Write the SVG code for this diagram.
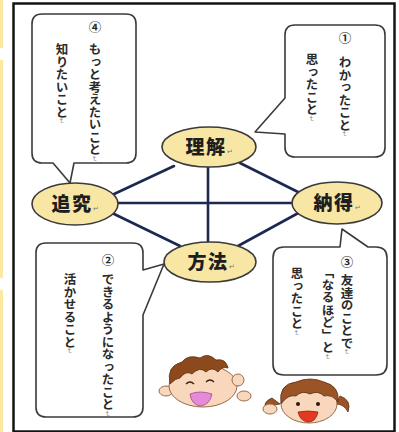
<svg xmlns="http://www.w3.org/2000/svg" width="399" height="432" viewBox="0 0 399 432">
  <style>
    .frame { fill: none; stroke: #141414; stroke-width: 2.5; }
    .strip { fill: #fde8a0; }
    .link { stroke: #1c2850; stroke-width: 2.6; stroke-linecap: round; }
    .node ellipse { fill: #f8e7a4; stroke: #3a3a3a; stroke-width: 1.6; }
    .node text { font-family: "Noto Sans CJK JP", "Noto Sans", sans-serif; font-weight: 900; font-size: 19px; fill: #1e1e1e; text-anchor: middle; letter-spacing: 1.5px; }
    .mark { font-size: 7px; font-weight: 400; fill: #777; letter-spacing: 0; }
    .bubble path { fill: #ffffff; stroke: #3a3a3a; stroke-width: 1.6; stroke-linejoin: round; }
    .bubble text { font-family: "Noto Sans CJK JP", "Noto Sans", sans-serif; font-weight: 700; font-size: 12.5px; fill: #2a2a2a; writing-mode: vertical-rl; }
    .bubble .cr { font-size: 7px; font-weight: 400; fill: #888; }
    .skin { fill: #f9d7bd; stroke: #9a6a4a; stroke-width: 1; }
    .hair1 { fill: #8c4a1c; stroke: #5a2e10; stroke-width: 0.8; }
    .hair2 { fill: #9a5426; stroke: #5a2e10; stroke-width: 0.8; }
    .eye { fill: #2a1a10; }
  </style>

  <!-- side strip and frame -->
  <rect class="strip" x="0" y="0" width="3" height="48"/>
  <rect class="strip" x="0" y="60" width="3" height="218"/>
  <rect class="strip" x="0" y="290" width="3" height="142"/>
  <rect class="frame" x="13.5" y="3.5" width="381" height="428"/>

  <!-- connectors -->
  <g id="connectors">
    <line class="link" x1="208" y1="165" x2="208" y2="244"/>
    <line class="link" x1="115" y1="203" x2="294" y2="203"/>
    <line class="link" x1="112" y1="195" x2="174" y2="166"/>
    <line class="link" x1="240" y1="163" x2="302" y2="194"/>
    <line class="link" x1="110" y1="212" x2="180" y2="246"/>
    <line class="link" x1="238" y1="246" x2="302" y2="211"/>
  </g>

  <!-- central nodes -->
  <g id="node-rikai" class="node">
    <ellipse cx="209" cy="147" rx="47" ry="20"/>
    <text x="209" y="154">理解<tspan class="mark">↵</tspan></text>
  </g>
  <g id="node-tsuikyu" class="node">
    <ellipse cx="75" cy="204" rx="43" ry="21"/>
    <text x="75" y="211">追究<tspan class="mark">↵</tspan></text>
  </g>
  <g id="node-nattoku" class="node">
    <ellipse cx="337" cy="203" rx="45" ry="21"/>
    <text x="337" y="210">納得<tspan class="mark">↵</tspan></text>
  </g>
  <g id="node-hoho" class="node">
    <ellipse cx="210" cy="262" rx="46" ry="20"/>
    <text x="211" y="269">方法<tspan class="mark">↵</tspan></text>
  </g>

  <!-- speech bubbles -->
  <g id="bubble-4" class="bubble">
    <path d="M42,14 H126 Q136,14 136,24 V153 Q136,163 126,163 H74 L70,183 L53,163 H42 Q32,163 32,153 V24 Q32,14 42,14 Z"/>
    <text x="95" y="21">④</text>
    <text x="95" y="43">もっと考えたいこと<tspan class="cr">↵</tspan></text>
    <text x="62" y="43">知りたいこと<tspan class="cr">↵</tspan></text>
  </g>
  <g id="bubble-1" class="bubble">
    <path d="M295,25 H375 Q385,25 385,35 V147 Q385,157 375,157 H295 Q285,157 285,147 V134 L255,132 L285,98 V35 Q285,25 295,25 Z"/>
    <text x="345" y="32">①</text>
    <text x="345" y="56">わかったこと<tspan class="cr">↵</tspan></text>
    <text x="312" y="53">思ったこと<tspan class="cr">↵</tspan></text>
  </g>
  <g id="bubble-2" class="bubble">
    <path d="M46,243 H133 Q143,243 143,253 V270 L164,264 L143,315 V407 Q143,417 133,417 H46 Q36,417 36,407 V253 Q36,243 46,243 Z"/>
    <text x="108" y="254">②</text>
    <text x="108" y="273">できるようになったこと<tspan class="cr">↵</tspan></text>
    <text x="70" y="273">活かせること<tspan class="cr">↵</tspan></text>
  </g>
  <g id="bubble-3" class="bubble">
    <path d="M284,247 H340 L342,229 L368,247 H376 Q387,247 387,258 V364 Q387,375 376,375 H284 Q273,375 273,364 V258 Q273,247 284,247 Z"/>
    <text x="347" y="256">③</text>
    <text x="347" y="274">友達のことで<tspan class="cr">↵</tspan></text>
    <text x="328" y="266">「なるほど」と<tspan class="cr">↵</tspan></text>
    <text x="297" y="267">思ったこと<tspan class="cr">↵</tspan></text>
  </g>

  <!-- two children lying on their fronts -->
  <g id="child-left">
    <ellipse class="skin" cx="166" cy="391" rx="7" ry="5"/>
    <ellipse class="skin" cx="244" cy="396" rx="7" ry="5"/>
    <ellipse class="skin" cx="203" cy="386" rx="34" ry="21"/>
    <circle class="skin" cx="238" cy="380" r="6"/>
    <path class="hair1" d="M170,384 Q166,366 182,362 Q188,354 200,358 Q208,352 216,360 Q226,358 228,368 Q222,366 218,372 Q212,366 206,372 Q200,366 192,374 Q186,370 180,378 Q176,378 170,384 Z"/>
    <path d="M186,384 q4,-4 8,0" fill="none" stroke="#3a2010" stroke-width="1.3"/>
    <path d="M206,382 q4,-4 8,0" fill="none" stroke="#3a2010" stroke-width="1.3"/>
    <path d="M190,394 Q200,390 212,394 Q210,405 200,406 Q191,404 190,394 Z" fill="#e58ad6" stroke="#a04a90" stroke-width="0.8"/>
  </g>
  <g id="child-right">
    <path class="hair2" d="M272,398 Q262,402 266,410 Q272,404 280,404 Z"/>
    <path class="hair2" d="M340,396 Q352,400 348,412 Q344,404 336,404 Z"/>
    <ellipse class="skin" cx="309" cy="404" rx="28" ry="19"/>
    <ellipse class="skin" cx="270" cy="409" rx="7" ry="5"/>
    <path class="hair2" d="M281,404 Q278,384 296,382 Q310,376 324,382 Q340,386 338,402 Q332,394 324,396 Q318,390 310,394 Q302,390 296,396 Q288,394 281,404 Z"/>
    <circle class="eye" cx="298" cy="404" r="2"/>
    <circle class="eye" cx="318" cy="404" r="2"/>
    <path d="M298,412 Q308,410 318,412 Q316,422 308,422 Q300,421 298,412 Z" fill="#e23a22" stroke="#9a2010" stroke-width="0.8"/>
  </g>
</svg>
